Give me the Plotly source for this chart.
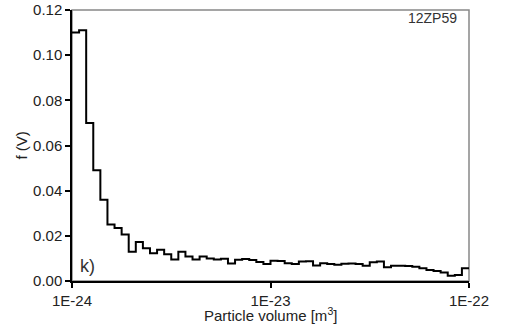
import numpy as np
import plotly.graph_objects as go

# Histogram: 28 log-spaced bins per decade from 1E-24 to 1E-22 m^3
log_start = -24
log_end = -22
bins_per_decade = 28

freq = [0.110, 0.111, 0.070, 0.049, 0.036, 0.025, 0.0235, 0.0206, 0.013, 0.0173,
        0.0145, 0.0123, 0.0138, 0.0118, 0.0095, 0.0130, 0.0108, 0.0095, 0.0108, 0.0100,
        0.0095, 0.0098, 0.0078, 0.0094, 0.0097, 0.0093, 0.0084, 0.0075, 0.0090, 0.0089,
        0.0079, 0.0075, 0.0086, 0.0087, 0.0069, 0.0079, 0.0075, 0.0072, 0.0076, 0.0077,
        0.0075, 0.0068, 0.0083, 0.0086, 0.0061, 0.0068, 0.0068, 0.0066, 0.0063, 0.0056,
        0.0049, 0.0044, 0.0038, 0.0023, 0.0027, 0.0056]

x_tickvals = [1e-24, 1e-23, 1e-22]
x_ticktext = ["1E-24", "1E-23", "1E-22"]
y_tickvals = [0.00, 0.02, 0.04, 0.06, 0.08, 0.10, 0.12]
y_ticktext = ["0.00", "0.02", "0.04", "0.06", "0.08", "0.10", "0.12"]

n_bins = (log_end - log_start) * bins_per_decade
edges = np.logspace(log_start, log_end, n_bins + 1)

xs = list(edges[:-1]) + [edges[-1]]
ys = list(freq) + [freq[-1]]

FONT = "Liberation Sans, Arial, sans-serif"
TXT = "#222"

fig = go.Figure()
fig.add_trace(go.Scatter(x=xs, y=ys, mode="lines", line=dict(color="black", width=2, shape="hv"),
                         showlegend=False, hoverinfo="skip"))

fig.update_layout(
    width=505, height=329,
    margin=dict(l=72, r=36, t=10, b=48),
    paper_bgcolor="white", plot_bgcolor="white",
    font=dict(family=FONT, size=15, color=TXT),
    shapes=[dict(type="rect", xref="paper", yref="paper", x0=0, x1=1, y0=0, y1=1,
                 line=dict(color="#888", width=1.5), layer="below")],
    annotations=[
        dict(text="12ZP59", xref="paper", yref="paper", x=0.976, y=1.008, xanchor="right", yanchor="top",
             showarrow=False, font=dict(family=FONT, size=14, color="#333")),
        dict(text="k)", xref="paper", yref="paper", x=0.015, y=0.01, xanchor="left", yanchor="bottom",
             showarrow=False, font=dict(family=FONT, size=18, color="#333")),
        dict(text="Particle volume [m<sup>3</sup>]", xref="paper", yref="paper", x=0.5, y=-0.122,
             xanchor="center", yanchor="middle", showarrow=False,
             font=dict(family=FONT, size=15, color=TXT)),
        dict(text="f (V)", xref="paper", yref="paper", x=-0.126, y=0.5, textangle=-90,
             xanchor="center", yanchor="middle", showarrow=False,
             font=dict(family=FONT, size=15, color=TXT)),
    ],
)
fig.update_xaxes(type="log", range=[log_start, log_end], tickvals=x_tickvals, ticktext=x_ticktext,
                 ticks="outside", ticklen=5, tickwidth=2, tickcolor="black", automargin=False,
                 showline=True, linecolor="black", linewidth=1.5, showgrid=False, zeroline=False,
                 tickfont=dict(family=FONT, size=15, color=TXT))
fig.update_yaxes(range=[0, 0.12], tickvals=y_tickvals, ticktext=y_ticktext,
                 ticks="outside", ticklen=5, tickwidth=2, tickcolor="black", automargin=False,
                 showline=True, linecolor="black", linewidth=1.5, showgrid=False, zeroline=False,
                 tickfont=dict(family=FONT, size=15, color=TXT))

fig.write_html("out.html", config={"displayModeBar": False},
               post_script="document.body.style.margin='0px';document.body.style.overflow='hidden';")
